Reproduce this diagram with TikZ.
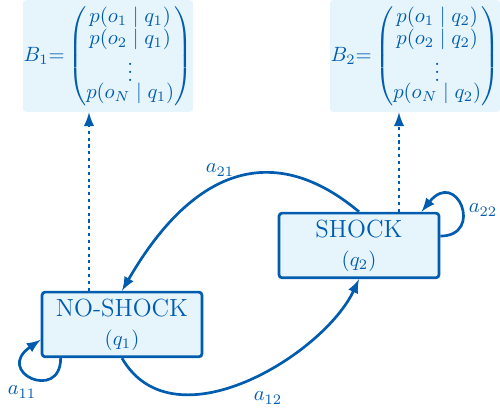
\documentclass[tikz,border=0pt]{standalone}
\usepackage{amsmath}
\definecolor{hmmblue}{RGB}{0,92,175}
\definecolor{hmmfill}{RGB}{230,244,251}
\tikzset{
  hmmstate/.style={rectangle, draw=hmmblue, fill=hmmfill, line width=1.3pt, rounded corners=1.5pt,
    minimum width=2.72cm, minimum height=1.1cm, align=center, text=hmmblue, inner sep=1pt},
  emission/.style={rectangle, fill=hmmfill, rounded corners=1.5pt, minimum width=2.89cm,
    minimum height=1.9cm, text=hmmblue, inner sep=0pt,
    execute at begin node={\def\arraystretch{0.85}}},
  trans/.style={-latex, draw=hmmblue, line width=1.3pt},
  obs/.style={-latex, draw=hmmblue, line width=1.3pt, dash pattern=on 1.5pt off 1.8pt},
  lbl/.style={text=hmmblue}
}
\begin{document}
\begin{tikzpicture}
            \useasboundingbox (0, 0) rectangle (8.5, 7.021);
            % emission probabilities
            \node[emission] (bone) at (1.836, 6.069) {$B_1{=}\begin{pmatrix} p(o_1\mid q_1)\\ p(o_2\mid q_1)\\ \vdots\\ \noalign{\vskip -2.5pt} p(o_N\mid q_1)\end{pmatrix}$};
            \node[emission] (btwo) at (7.055, 6.069) {$B_2{=}\begin{pmatrix} p(o_1\mid q_2)\\ p(o_2\mid q_2)\\ \vdots\\ \noalign{\vskip -2.5pt} p(o_N\mid q_2)\end{pmatrix}$};
            % hidden states
            \node[hmmstate] (noshock) at (2.074, 1.505) {{\large NO-SHOCK}\\[2pt]$(q_1)$};
            \node[hmmstate] (shock) at (6.103, 2.848) {{\large SHOCK}\\[2pt]$(q_2)$};
            \draw[obs] ([xshift=-0.561cm]noshock.north) -- ([xshift=-0.561cm]noshock.north |- bone.south);
            \draw[obs] ([xshift=0.68cm]shock.north) -- ([xshift=0.68cm]shock.north |- btwo.south);
            % transitions
            \draw[trans] (shock.north) to[out=140, in=60, out looseness=1.1, in looseness=1.5] (noshock.north);
            \draw[trans] (noshock.south) to[out=-60, in=-115, out looseness=1.05, in looseness=0.85] (shock.south);
            \draw[trans] ([xshift=0.34cm]noshock.south west) .. controls +(0, -0.75) and +(-0.8, -0.55) .. ([yshift=-0.26cm]noshock.west);
            \draw[trans] ([yshift=0.16cm]shock.east) .. controls +(0.75, 0) and +(0.6, 0.75) .. ([xshift=-0.32cm]shock.north east);
            \node[lbl] (a21) at (3.74, 4.131) {$a_{21}$};
            \node[lbl] (a12) at (4.556, 0.255) {$a_{12}$};
            \node[lbl] (a11) at (0.374, 0.357) {$a_{11}$};
            \node[lbl] (a22) at (8.211, 3.451) {$a_{22}$};
        \end{tikzpicture}
\end{document}
